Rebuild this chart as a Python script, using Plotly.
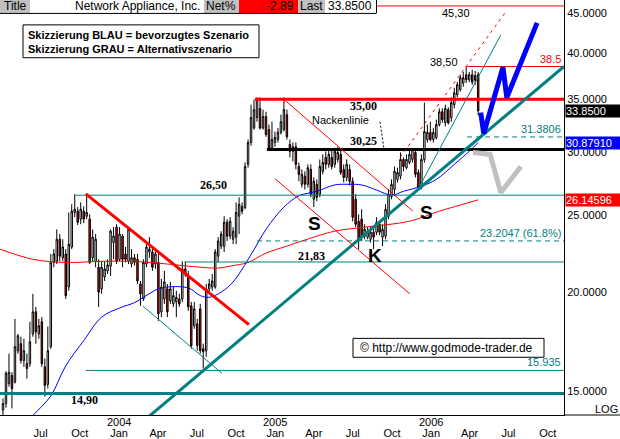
import math
import plotly.graph_objects as go
import pandas as pd

# ---------------- data ----------------
weeks = pd.date_range("2003-04-04", periods=160, freq="7D")

opens = [14.20, 14.47, 15.34, 15.70, 15.40, 16.87, 17.22, 16.40, 16.25, 16.25,
         17.72, 18.89, 17.72, 18.35, 16.10, 15.30, 17.07, 21.80, 21.87, 23.32,
         22.10, 22.34, 20.30, 22.80, 25.20, 25.30, 24.72, 25.30, 24.93, 24.72,
         22.10, 21.87, 21.50, 20.19, 20.90, 21.27, 21.57, 23.10, 24.15, 22.00,
         23.53, 22.34, 21.87, 21.70, 22.10, 22.00, 20.48, 19.61, 21.70, 22.47,
         22.47, 21.70, 21.80, 18.89, 19.61, 20.19, 19.50, 19.33, 19.44, 19.61,
         19.61, 21.39, 20.96, 19.22, 18.14, 18.24, 19.05, 16.97, 16.87, 20.19,
         20.30, 20.30, 22.20, 22.86, 22.86, 24.50, 23.53, 23.32, 23.46, 24.93,
         25.65, 25.56, 28.98, 30.88, 32.20, 33.20, 34.10, 32.20, 33.30, 32.06,
         30.40, 30.88, 31.15, 31.80, 32.06, 33.48, 30.70, 30.10, 30.50, 28.80,
         27.35, 28.00, 27.35, 28.56, 26.19, 27.35, 26.57, 28.40, 29.57, 28.98,
         29.57, 28.98, 29.40, 29.83, 28.56, 27.90, 28.56, 27.60, 26.19, 24.57,
         24.72, 23.53, 23.46, 23.32, 23.80, 23.80, 24.36, 23.46, 23.53, 24.93,
         26.40, 26.95, 27.74, 28.00, 29.40, 28.70, 29.14, 29.40, 30.00, 28.30,
         27.20, 29.40, 31.15, 31.80, 31.15, 31.33, 32.53, 33.77, 32.70, 33.97,
         33.20, 34.47, 35.48, 35.99, 36.70, 37.59, 37.05, 37.59, 37.50, 37.60]
highs = [14.69, 15.90, 16.73, 15.85, 18.50, 17.72, 17.57, 17.47, 16.73, 18.35,
         19.90, 19.16, 18.51, 18.60, 16.49, 18.10, 22.34, 22.66, 24.00, 23.67,
         23.32, 22.66, 25.20, 25.81, 26.57, 25.60, 25.95, 25.65, 26.65, 25.07,
         24.00, 23.67, 22.00, 21.87, 21.87, 22.00, 24.00, 24.15, 24.36, 24.15,
         23.67, 22.80, 24.15, 22.66, 22.34, 22.34, 20.66, 22.00, 22.99, 23.46,
         22.66, 22.66, 22.34, 20.78, 21.27, 20.48, 20.60, 20.30, 20.08, 19.90,
         21.87, 21.87, 21.27, 19.44, 19.44, 18.51, 19.33, 17.22, 20.48, 20.78,
         21.08, 22.66, 23.46, 23.87, 24.93, 24.72, 24.86, 24.15, 25.95, 26.34,
         25.95, 29.14, 31.15, 34.47, 34.97, 35.20, 35.20, 33.97, 33.77, 32.53,
         32.80, 31.88, 32.20, 33.48, 35.20, 33.97, 31.15, 30.88, 30.88, 29.14,
         28.56, 28.40, 28.98, 28.98, 27.90, 27.74, 29.40, 29.83, 30.10, 30.26,
         30.26, 30.40, 30.50, 30.26, 28.98, 29.40, 28.98, 27.90, 26.57, 25.07,
         25.44, 24.36, 24.15, 24.15, 24.15, 24.86, 24.57, 24.36, 25.81, 26.95,
         27.74, 28.80, 28.70, 30.00, 29.57, 29.83, 30.26, 30.40, 30.40, 28.56,
         29.83, 34.67, 32.53, 32.80, 32.20, 33.00, 34.10, 34.10, 34.47, 34.20,
         35.20, 36.20, 36.80, 37.59, 37.90, 38.50, 37.90, 38.13, 38.00, 37.90]
lows = [14.00, 14.30, 15.20, 14.27, 15.34, 16.73, 16.25, 16.10, 15.56, 16.10,
        17.57, 17.22, 17.47, 16.10, 14.77, 15.12, 16.97, 21.50, 21.70, 21.87,
        21.87, 19.61, 20.08, 22.66, 24.86, 24.30, 24.36, 24.43, 24.72, 21.70,
        21.87, 21.50, 19.16, 19.90, 20.66, 21.08, 20.96, 22.00, 21.70, 21.87,
        21.50, 21.80, 21.70, 21.50, 21.60, 20.48, 19.22, 19.50, 21.50, 22.10,
        21.27, 21.39, 18.40, 18.60, 19.33, 18.60, 19.33, 19.16, 18.60, 19.16,
        19.44, 20.90, 18.94, 16.97, 17.98, 16.87, 16.73, 16.02, 16.58, 19.90,
        20.08, 20.19, 21.80, 22.66, 22.47, 23.20, 23.32, 22.99, 22.99, 23.67,
        25.07, 25.44, 28.70, 30.60, 32.06, 32.80, 32.06, 32.06, 31.40, 30.26,
        30.26, 30.50, 30.88, 31.60, 31.88, 31.15, 29.57, 29.23, 28.56, 27.60,
        27.10, 26.95, 27.10, 26.34, 25.60, 26.04, 26.34, 28.15, 28.56, 28.70,
        28.56, 28.70, 29.14, 28.10, 27.50, 27.60, 27.27, 24.57, 24.15, 22.66,
        23.20, 23.32, 23.32, 23.10, 22.66, 23.60, 23.60, 22.86, 23.32, 24.72,
        26.19, 26.57, 27.50, 27.74, 28.40, 28.56, 28.98, 29.14, 27.90, 26.95,
        26.95, 29.14, 30.88, 31.00, 30.88, 31.15, 32.35, 32.70, 32.35, 32.53,
        32.80, 34.10, 35.20, 35.80, 36.30, 36.70, 36.80, 36.52, 36.50, 33.40]
closes = [14.47, 15.80, 15.85, 15.12, 17.07, 17.62, 16.40, 16.87, 16.02, 17.32,
          18.89, 17.83, 18.14, 16.25, 15.25, 16.87, 21.80, 22.34, 23.32, 22.20,
          22.80, 19.80, 22.99, 25.30, 25.44, 24.50, 25.44, 24.72, 25.20, 21.80,
          23.46, 23.32, 20.00, 21.50, 21.39, 21.64, 23.87, 23.53, 21.87, 23.67,
          22.00, 22.00, 24.00, 22.10, 21.80, 20.66, 19.90, 21.80, 22.80, 22.66,
          21.50, 22.34, 18.78, 20.30, 20.60, 18.89, 20.19, 19.80, 19.70, 19.33,
          21.39, 21.08, 19.16, 17.12, 19.05, 17.12, 16.87, 16.82, 20.19, 20.48,
          20.66, 22.47, 23.20, 23.67, 24.50, 23.53, 24.57, 23.87, 25.20, 25.81,
          25.30, 28.80, 30.88, 33.20, 33.97, 34.97, 32.20, 33.30, 31.60, 30.40,
          31.15, 31.33, 31.80, 32.80, 33.97, 31.40, 30.10, 30.50, 28.98, 28.15,
          28.15, 27.35, 28.70, 26.57, 27.60, 26.34, 28.80, 29.14, 28.98, 29.83,
          28.80, 30.10, 30.00, 28.30, 27.90, 28.98, 27.60, 24.86, 24.36, 23.32,
          23.46, 24.00, 23.80, 23.80, 23.46, 24.50, 23.80, 24.00, 25.44, 26.57,
          27.35, 28.40, 28.30, 29.40, 28.80, 29.40, 29.83, 30.26, 28.15, 27.10,
          29.40, 31.88, 31.80, 31.15, 31.80, 32.53, 33.77, 33.00, 34.10, 32.70,
          34.67, 35.68, 36.52, 37.26, 37.26, 37.05, 37.59, 36.80, 37.00, 33.85]

blue_ma_dates = ["2003-05-30", "2003-06-13", "2003-07-25", "2003-08-29", "2003-10-10",
                 "2003-11-21", "2004-01-02", "2004-02-06", "2004-02-27", "2004-04-02",
                 "2004-04-23", "2004-06-11", "2004-07-09", "2004-07-30", "2004-08-27",
                 "2004-09-24", "2004-11-05", "2004-12-10", "2005-01-21", "2005-02-25",
                 "2005-04-08", "2005-05-20", "2005-06-24", "2005-07-22", "2005-08-26",
                 "2005-09-30", "2005-10-28", "2005-12-09", "2006-01-13", "2006-02-24",
                 "2006-03-31", "2006-04-21"]
blue_ma_vals = [13.7, 13.98, 14.8, 16.15, 17.37, 18.6, 19.1, 19.4, 19.7, 20.2,
                20.3, 20.25, 19.8, 19.7, 20.0, 20.6, 22.3, 24.0, 25.6, 26.45,
                26.8, 27.3, 27.35, 27.3, 26.9, 26.5, 26.8, 27.2, 27.74, 28.98,
                30.1, 30.879]

red_ma_dates = ["2003-03-28", "2003-06-13", "2003-08-29", "2003-11-21", "2004-02-06",
                "2004-04-23", "2004-07-09", "2004-08-20", "2004-09-17", "2004-10-29",
                "2004-12-10", "2005-01-28", "2005-03-04", "2005-05-20", "2005-07-29",
                "2005-11-11", "2006-01-20", "2006-03-10", "2006-04-21"]
red_ma_vals = [22.66, 22.0, 21.8, 21.87, 21.87, 21.7, 21.5, 21.45, 21.57, 21.8,
               22.4, 22.86, 23.2, 23.87, 24.15, 24.57, 25.3, 25.75, 26.146]

level_vals = [45.90, 38.50, 35.00, 31.3806, 30.25, 26.50, 23.2047, 21.83, 15.935, 14.90]
level_starts = ["2003-03-28", "2006-03-26", "2004-11-14", "2006-03-26", "2004-12-12",
                "2003-09-19", "2004-11-19", "2004-06-03", "2003-10-15", "2003-03-28"]
level_end = "2006-11-08"

trend_starts = ["2003-10-15", "2004-02-26", "2004-02-19", "2005-01-21", "2004-12-31",
                "2005-10-20", "2005-12-01", "2005-09-03"]
trend_ends = ["2004-10-31", "2004-08-29", "2006-11-08", "2005-11-19", "2005-11-12",
              "2006-06-23", "2006-06-13", "2005-09-12"]
trend_p0 = [26.6, 19.2, 13.64, 35.0, 27.8, 29.57, 26.95, 32.8]
trend_p1 = [18.2, 15.8, 38.5, 25.3, 19.9, 45.0, 42.2, 30.4]

blue_path_dates = ["2006-04-27", "2006-05-04", "2006-06-18", "2006-06-27", "2006-09-06"]
blue_path_prices = [33.68, 31.7, 38.43, 35.17, 43.7]
gray_path_dates = ["2006-04-09", "2006-05-19", "2006-06-13", "2006-07-30"]
gray_path_prices = [30.0, 29.83, 26.7, 28.8]

y_ticks = [15, 20, 25, 30, 35, 40, 45]
x_tick_dates = ["2003-07-01", "2003-10-01", "2004-01-01", "2004-04-01", "2004-07-01",
                "2004-10-01", "2005-01-01", "2005-04-01", "2005-07-01", "2005-10-01",
                "2006-01-01", "2006-04-01", "2006-07-01", "2006-10-01"]
x_tick_text = ["Jul", "Oct", "Jan", "Apr", "Jul", "Oct", "Jan", "Apr", "Jul", "Oct",
               "Jan", "Apr", "Jul", "Oct"]
year_dates = ["2004-01-01", "2005-01-01", "2006-01-01"]
year_text = ["2004", "2005", "2006"]

last_price = 33.85
blue_ma_last = 30.8791
red_ma_last = 26.14596

# ---------------- layout helpers ----------------
PW, PH = 564, 417
SANS = "Liberation Sans, Arial, sans-serif"
SERIF = "Liberation Serif, Times New Roman, serif"
TEAL = "#008080"
RED = "#ff0000"


def P(x, y):
    return x / PW, 1 - y / PH


fig = go.Figure()

fig.add_trace(go.Candlestick(
    x=weeks, open=opens, high=highs, low=lows, close=closes,
    increasing=dict(line=dict(color="black", width=1), fillcolor="white"),
    decreasing=dict(line=dict(color="black", width=1), fillcolor=RED),
    whiskerwidth=0, hoverinfo="skip", showlegend=False))

fig.add_trace(go.Scatter(x=red_ma_dates, y=red_ma_vals, mode="lines",
                         line=dict(color=RED, width=1, shape="spline"),
                         hoverinfo="skip", showlegend=False))
fig.add_trace(go.Scatter(x=blue_ma_dates, y=blue_ma_vals, mode="lines",
                         line=dict(color="#0000ff", width=1, shape="spline"),
                         hoverinfo="skip", showlegend=False))

level_styles = [(RED, 1, "solid"), (RED, 1, "solid"), (RED, 3, "solid"),
                (TEAL, 1, "5px,4px"), ("black", 3, "solid"), (TEAL, 1, "solid"),
                (TEAL, 1, "5px,4px"), (TEAL, 1, "solid"), (TEAL, 1, "solid"),
                (TEAL, 3, "solid")]
for v, s, (c, w, d) in zip(level_vals, level_starts, level_styles):
    fig.add_trace(go.Scatter(x=[s, level_end], y=[v, v], mode="lines",
                             line=dict(color=c, width=w, dash=d),
                             hoverinfo="skip", showlegend=False))

trend_styles = [(RED, 3, "solid"), (TEAL, 1, "solid"), (TEAL, 3, "solid"),
                (RED, 1, "solid"), (RED, 1, "solid"), (RED, 1, "3px,4px"),
                (TEAL, 1, "solid"), ("black", 1, "2px,2px")]
for s, e, p0, p1, (c, w, d) in zip(trend_starts, trend_ends, trend_p0, trend_p1, trend_styles):
    fig.add_trace(go.Scatter(x=[s, e], y=[p0, p1], mode="lines",
                             line=dict(color=c, width=w, dash=d),
                             hoverinfo="skip", showlegend=False))

fig.add_trace(go.Scatter(x=gray_path_dates, y=gray_path_prices, mode="lines",
                         line=dict(color="#c0c0c0", width=5),
                         hoverinfo="skip", showlegend=False))
fig.add_trace(go.Scatter(x=blue_path_dates, y=blue_path_prices, mode="lines",
                         line=dict(color="#0000ff", width=5),
                         hoverinfo="skip", showlegend=False))

shapes = []
annotations = []


def rect(x0, y0, x1, y1, fill, line="black", lw=1):
    a = P(x0, y0)
    b = P(x1, y1)
    shapes.append(dict(type="rect", xref="paper", yref="paper", x0=a[0], y0=a[1],
                       x1=b[0], y1=b[1], fillcolor=fill,
                       line=dict(color=line, width=lw), layer="above"))


def text(t, x, y, size=11, color="black", family=SANS, bold=False, xanchor="center"):
    px_, py_ = P(x, y)
    if bold:
        t = "<b>" + t + "</b>"
    annotations.append(dict(text=t, x=px_, y=py_, xref="paper", yref="paper",
                            xanchor=xanchor, yanchor="middle", showarrow=False,
                            font=dict(size=size, color=color, family=family)))


# header bar
rect(0, 0, 30, 13, "#c0c0c0", "#c0c0c0", 0)
rect(30, 0, 204, 13, "white", "white", 0)
rect(204, 0, 239, 13, "#c0c0c0", "#c0c0c0", 0)
rect(239, 0, 298, 13, RED, RED, 0)
rect(298, 0, 325, 13, "#c0c0c0", "#c0c0c0", 0)
rect(325, 0, 376, 13, "white", "white", 0)
shapes.append(dict(type="line", xref="paper", yref="paper", x0=0, x1=376 / PW,
                   y0=P(0, 13.5)[1], y1=P(0, 13.5)[1], line=dict(color="black", width=1), layer="above"))
shapes.append(dict(type="line", xref="paper", yref="paper", x0=376.5 / PW, x1=376.5 / PW,
                   y0=1, y1=P(0, 13.5)[1], line=dict(color="black", width=1), layer="above"))
text("Title", 15, 6.5, 12)
text("Network Appliance, Inc.", 202, 6.5, 12, xanchor="right")
text("Net%", 221, 6.5, 12)
text("-2.89", 296, 6.5, 12, xanchor="right")
text("Last", 311, 6.5, 12)
text("33.8500", 374, 6.5, 12, xanchor="right")

# legend box
rect(23, 25, 259, 58, "white")
text("Skizzierung BLAU = bevorzugtes Szenario", 26, 35, 11, bold=True, xanchor="left")
text("Skizzierung GRAU = Alternativszenario", 26, 49, 11, bold=True, xanchor="left")

# copyright box
rect(353, 340, 544, 359, "white")
text("\u00a9 http://www.godmode-trader.de", 358, 350, 12, xanchor="left")

# chart labels
text("45,30", 456, 13)
text("38,50", 444, 62)
text("35,00", 363, 107, 12, family=SERIF, bold=True)
text("Nackenlinie", 340, 121)
text("30,25", 363, 142, 12, family=SERIF, bold=True)
text("26,50", 213, 186, 12, family=SERIF, bold=True)
text("21,83", 311, 257, 12, family=SERIF, bold=True)
text("14,90", 84, 402, 12, family=SERIF, bold=True)
text("S", 315, 225, 19, bold=True)
text("S", 426, 214, 19, bold=True)
text("K", 375, 257, 19, bold=True)
text("LOG", 606, 411, 11)

# right-aligned level labels (sit on their lines)
for t, v, c in [("38.5", 38.5, RED), ("31.3806", 31.3806, TEAL),
                ("23.2047 (61.8%)", 23.2047, TEAL), ("15.935", 15.935, TEAL)]:
    annotations.append(dict(text=t, x=563 / PW, xref="paper", y=math.log10(v), yref="y",
                            xanchor="right", yanchor="bottom", showarrow=False,
                            font=dict(size=11, color=c, family=SANS)))

# price boxes on the axis
for v, bg, t in [(last_price, "black", "33.8500"), (blue_ma_last, "#0000ff", "30.87910"),
                 (red_ma_last, RED, "26.14596")]:
    annotations.append(dict(text=t, x=565 / PW, xref="paper", y=math.log10(v), yref="y",
                            xanchor="left", yanchor="middle", showarrow=False,
                            bgcolor=bg, borderpad=0, width=54, align="left",
                            font=dict(size=11, color="white", family=SANS)))

# year labels on x axis
for d, t in zip(year_dates, year_text):
    annotations.append(dict(text=t, x=d, xref="x", y=P(0, 424)[1], yref="paper",
                            xanchor="center", yanchor="middle", showarrow=False,
                            font=dict(size=11, color="black", family=SANS)))

# extend bottom axis line under the price scale
shapes.append(dict(type="line", xref="paper", yref="paper", x0=1, x1=620 / PW,
                   y0=0, y1=0, line=dict(color="black", width=1), layer="above"))

fig.update_layout(
    width=620, height=439,
    margin=dict(l=0, r=56, t=0, b=22, pad=0),
    paper_bgcolor="white", plot_bgcolor="white",
    showlegend=False,
    font=dict(family=SANS, size=11, color="black"),
    shapes=shapes, annotations=annotations,
    xaxis=dict(type="date", range=["2003-03-28", "2006-11-08"],
               rangeslider=dict(visible=False), showgrid=False, zeroline=False,
               tickvals=x_tick_dates, ticktext=x_tick_text, ticks="",
               tickfont=dict(size=11, family=SANS, color="black"),
               showline=True, linecolor="black", linewidth=1,
               ticklabelstandoff=8),
    yaxis=dict(type="log", side="right",
               range=[math.log10(14.0), math.log10(46.7)],
               showgrid=False, zeroline=False,
               tickvals=y_ticks, ticktext=["%.4f" % v for v in y_ticks], ticks="",
               tickfont=dict(size=11, family=SANS, color="black"),
               showline=True, linecolor="black", linewidth=1),
)

fig.write_html("out.html", config={"displayModeBar": False},
               post_script="document.body.style.margin='0';document.body.style.padding='0';")
